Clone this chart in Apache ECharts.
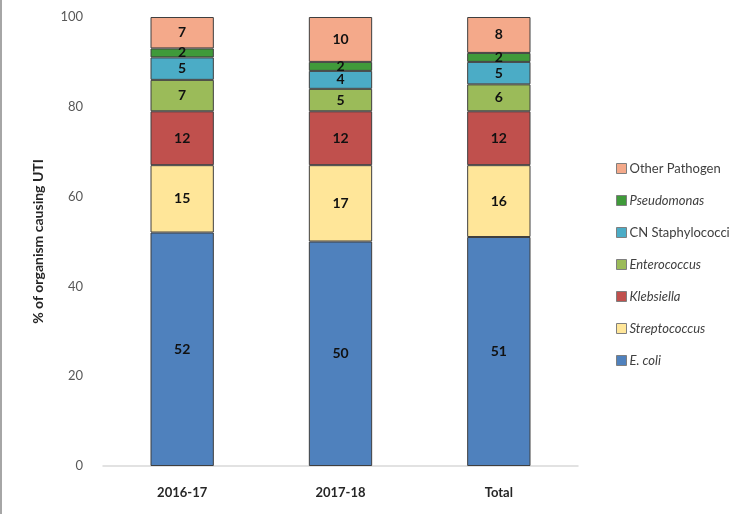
<!DOCTYPE html>
<html><head><meta charset="utf-8">
<script src="https://cdn.jsdelivr.net/npm/echarts@6/dist/echarts.min.js"></script>
<style>html,body{margin:0;padding:0;background:#fff}#c{width:750px;height:514px;box-sizing:border-box;border-left:2px solid #a6a6a6}</style>
</head><body><div id="c"></div>
<script>
const categories = ['2016-17', '2017-18', 'Total'];
const eColi = [52, 50, 51];
const streptococcus = [15, 17, 16];
const klebsiella = [12, 12, 12];
const enterococcus = [7, 5, 6];
const cnStaph = [5, 4, 5];
const pseudomonas = [2, 2, 2];
const otherPathogen = [7, 10, 8];
const yTicks = [0, 20, 40, 60, 80, 100];

const FONT = 'Lato';
const seriesDefs = [
  {name: 'E. coli', data: eColi, color: '#4f81bd', italic: true},
  {name: 'Streptococcus', data: streptococcus, color: '#ffe699', italic: true},
  {name: 'Klebsiella', data: klebsiella, color: '#c0504d', italic: true},
  {name: 'Enterococcus', data: enterococcus, color: '#9bbb59', italic: true},
  {name: 'CN Staphylococci', data: cnStaph, color: '#4bacc6', italic: false},
  {name: 'Pseudomonas', data: pseudomonas, color: '#3f9a3a', italic: true},
  {name: 'Other Pathogen', data: otherPathogen, color: '#f4a98a', italic: false}
];

const chart = echarts.init(document.getElementById('c'), null, {renderer: 'canvas'});
chart.setOption({
  animation: false,
  textStyle: {fontFamily: FONT},
  grid: {left: 101, right: 172, top: 17, bottom: 48, containLabel: false},
  legend: {
    orient: 'vertical', left: 609, top: 157, itemGap: 19,
    itemWidth: 10, itemHeight: 10, icon: 'rect',
    data: seriesDefs.slice().reverse().map(s => ({
      name: s.name,
      textStyle: {fontStyle: s.italic ? 'italic' : 'normal'}
    })),
    textStyle: {fontFamily: FONT, fontSize: 13, color: '#404040', padding: [0, 0, 0, -2]},
    itemStyle: {borderColor: '#7f7f7f', borderWidth: 1}
  },
  xAxis: {
    type: 'category', data: categories,
    axisLine: {lineStyle: {color: '#d9d9d9', width: 1.5}},
    axisTick: {show: false},
    axisLabel: {fontFamily: FONT, fontSize: 13, fontWeight: 'bold', color: '#262626', margin: 20}
  },
  yAxis: {
    type: 'value', min: 0, max: 100, interval: 20,
    name: '% of organism causing UTI', nameLocation: 'middle', nameGap: 58,
    nameRotate: 90,
    nameTextStyle: {fontFamily: FONT, fontSize: 14, fontWeight: 'bold', color: '#262626'},
    axisLine: {show: false}, axisTick: {show: false},
    splitLine: {show: false},
    axisLabel: {fontFamily: FONT, fontSize: 13, color: '#595959', margin: 20,
      formatter: v => yTicks.includes(v) ? String(v) : ''}
  },
  series: seriesDefs.map(s => ({
    name: s.name, type: 'bar', stack: 'total', data: s.data,
    barWidth: '40%',
    itemStyle: {color: s.color, borderColor: '#3f3f3f', borderWidth: 1},
    label: {show: true, position: 'inside', fontFamily: FONT, fontSize: 14, fontWeight: 'bold', color: '#111'}
  }))
});
</script></body></html>
